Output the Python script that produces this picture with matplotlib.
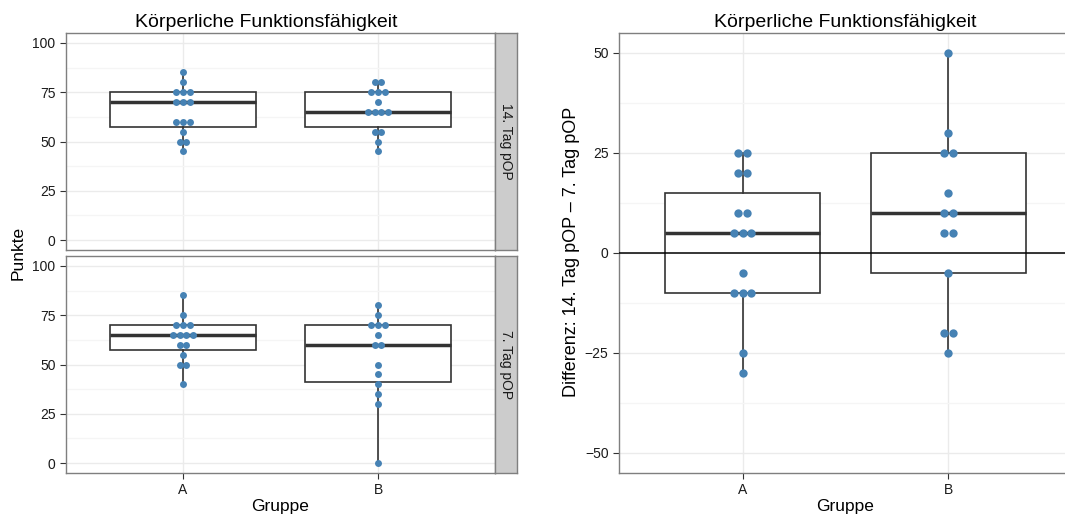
import numpy as np
import matplotlib
matplotlib.use("Agg")
import matplotlib.pyplot as plt

plt.rcParams['font.family'] = ['Liberation Sans', 'DejaVu Sans']

# data
groups = ["A", "B"]
tag14_A = [85, 80, 75, 75, 75, 70, 70, 70, 60, 60, 60, 55, 50, 50, 45]
tag14_B = [80, 80, 75, 75, 75, 70, 65, 65, 65, 65, 55, 55, 50, 45]
tag7_A = [85, 75, 70, 70, 70, 65, 65, 65, 65, 60, 60, 55, 50, 50, 40]
tag7_B = [80, 75, 70, 70, 70, 65, 60, 60, 50, 45, 40, 35, 30, 0]
diff_A = [25, 25, 20, 20, 10, 10, 5, 5, 5, -5, -10, -10, -10, -25, -30]
diff_B = [50, 30, 25, 25, 15, 10, 10, 5, 5, -5, -20, -20, -25]

title = "Körperliche Funktionsfähigkeit"
strip_labels = ["14. Tag pOP", "7. Tag pOP"]

W, H = 1065, 515
DOT = "#4682B4"
LINE = "#333333"
BORDER = "#7F7F7F"
TXT = "#1a1a1a"


def fx(px):
    return px / W


def fy(py):
    return 1 - py / H


def add_ax(fig, x0, y0, x1, y1):
    return fig.add_axes([fx(x0), fy(y1), fx(x1 - x0), (y1 - y0) / H])


def style(ax, major, minor, lim):
    ax.set_xlim(0.4, 2.6)
    ax.set_ylim(*lim)
    ax.set_yticks(major)
    ax.set_yticks(minor, minor=True)
    ax.set_xticks([1, 2])
    ax.grid(True, which="major", color="#EBEBEB", lw=1.0, zorder=0)
    ax.grid(True, which="minor", axis="y", color="#F5F5F5", lw=1.0, zorder=0)
    ax.set_axisbelow(True)
    ax.tick_params(which="minor", length=0)
    ax.tick_params(which="major", length=4.3, width=0.8, color=LINE,
                   labelsize=10, labelcolor=TXT, pad=3.2)
    for s in ax.spines.values():
        s.set_color(BORDER)
        s.set_linewidth(1.0)


def boxes(ax, data, dot_ms, spacing):
    ax.boxplot(data, positions=[1, 2], widths=0.75, patch_artist=True,
               showfliers=False, showcaps=False, manage_ticks=False,
               boxprops=dict(facecolor="white", edgecolor=LINE, linewidth=1.2),
               medianprops=dict(color=LINE, linewidth=2.5),
               whiskerprops=dict(color=LINE, linewidth=1.2),
               zorder=2)
    # centred dot stacks
    for pos, vals in zip([1, 2], data):
        vals = np.array(vals)
        for v in np.unique(vals):
            n = int((vals == v).sum())
            xs = pos + (np.arange(n) - (n - 1) / 2) * spacing
            ax.plot(xs, [v] * n, "o", ms=dot_ms, color=DOT, mec="none",
                    zorder=4, clip_on=False)


fig = plt.figure(figsize=(W / 100, H / 100), dpi=100)

# left: faceted panels
left_data = [[tag14_A, tag14_B], [tag7_A, tag7_B]]
rows = [(33, 250), (256, 473)]
for (y0, y1), data, lab in zip(rows, left_data, strip_labels):
    ax = add_ax(fig, 66, y0, 495, y1)
    boxes(ax, data, 5.0, 0.035)
    style(ax, [0, 25, 50, 75, 100], [12.5, 37.5, 62.5, 87.5], (-5, 105))
    if y1 == 473:
        ax.set_xticklabels(groups)
    else:
        ax.set_xticklabels([])
        ax.tick_params(axis="x", length=0)
    st = add_ax(fig, 495, y0, 517, y1)
    st.set_xticks([])
    st.set_yticks([])
    st.set_facecolor("#CCCCCC")
    for s in st.spines.values():
        s.set_color(BORDER)
        s.set_linewidth(1.0)
    st.text(0.5, 0.5, lab, rotation=-90, ha="center", va="center",
            fontsize=10, color=TXT, transform=st.transAxes)

fig.text(fx(266), fy(27), title, ha="center", va="baseline", fontsize=14, color="black")
fig.text(fx(18), fy(253), "Punkte", rotation=90, ha="center", va="center", fontsize=12.5, color="black")
fig.text(fx(280), fy(511), "Gruppe", ha="center", va="baseline", fontsize=12.5, color="black")

# right: differences (panel runs past the right image edge, as in the reference)
axr = add_ax(fig, 619, 33, 1072, 473)
axr.axhline(0, color="black", lw=1.1, zorder=3)
boxes(axr, [diff_A, diff_B], 6.0, 0.040)
style(axr, [-50, -25, 0, 25, 50], [-37.5, -12.5, 12.5, 37.5], (-55, 55))
axr.set_xticklabels(groups)
axr.set_yticklabels(["\u221250", "\u221225", "0", "25", "50"])

fig.text(fx(845), fy(27), title, ha="center", va="baseline", fontsize=14, color="black")
fig.text(fx(572), fy(252), "Differenz: 14. Tag pOP \u2013 7. Tag pOP", rotation=90,
         ha="center", va="center", fontsize=13, color="black")
fig.text(fx(845), fy(511), "Gruppe", ha="center", va="baseline", fontsize=12.5, color="black")

fig.savefig("out.png", dpi=100)
